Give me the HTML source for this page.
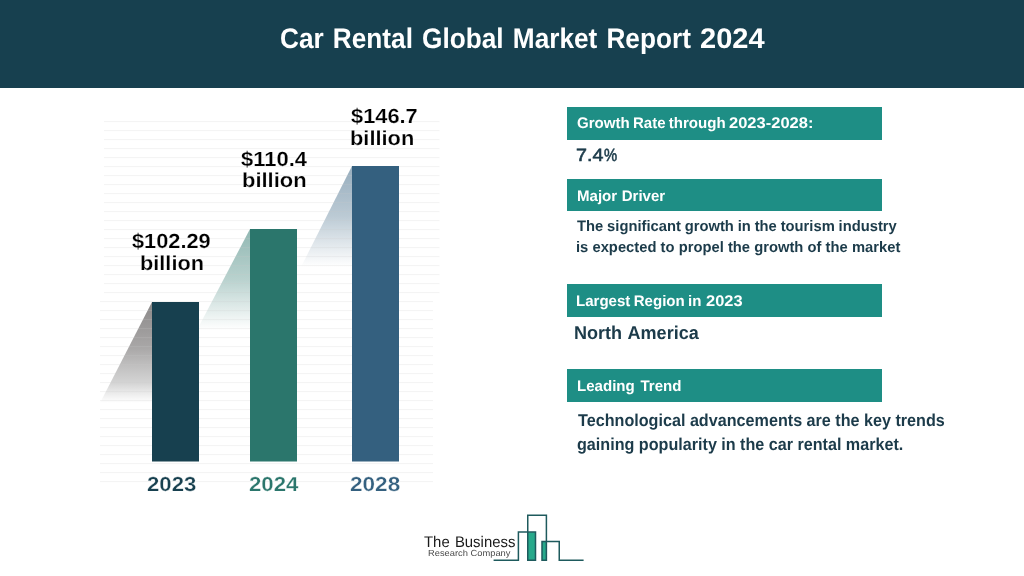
<!DOCTYPE html>
<html lang="en">
<head>
<meta charset="utf-8">
<title>Car Rental Global Market Report 2024</title>
<style>
html,body{margin:0;padding:0;}
body{width:1024px;height:576px;position:relative;overflow:hidden;background:#fff;font-family:"Liberation Sans",sans-serif;text-rendering:geometricPrecision;}
.abs{position:absolute;white-space:nowrap;}
h1,h2,p{margin:0;padding:0;font-size:inherit;font-weight:inherit;}
#hdr{left:0;top:0;width:1024px;height:88px;background:#17404f;}
.box{left:567px;width:315px;background:#1e8e85;}
</style>
</head>
<body>
<header>
<div id="hdr" class="abs"></div>
<h1><span id="title" class="abs" style="left:280.40px;top:21px;font-size:28.42px;line-height:37px;font-weight:bold;color:#fff;word-spacing:2.03px;transform:scaleX(0.9226);transform-origin:0 0">Car Rental Global Market Report</span> <span id="titley" class="abs" style="left:700.48px;top:21px;font-size:28.42px;line-height:37px;font-weight:bold;color:#fff;transform:scaleX(1.0226);transform-origin:0 0">2024</span></h1>
</header>

<main>
<section class="chart">

<svg class="abs" style="left:0;top:88px" width="520" height="400" viewBox="0 88 520 400">
  <defs>
    <linearGradient id="sg1" x1="0" y1="0" x2="0" y2="1"><stop offset="0" stop-color="#8a8888"/><stop offset="0.45" stop-color="#a4a2a2" stop-opacity="0.95"/><stop offset="0.8" stop-color="#b0b0b0" stop-opacity="0.55"/><stop offset="1" stop-color="#b8b8b8" stop-opacity="0"/></linearGradient>
    <linearGradient id="sg2" x1="0" y1="0" x2="0" y2="1"><stop offset="0" stop-color="#2b766c" stop-opacity="0.52"/><stop offset="0.5" stop-color="#2b766c" stop-opacity="0.33"/><stop offset="1" stop-color="#2b766c" stop-opacity="0"/></linearGradient>
    <linearGradient id="sg3" x1="0" y1="0" x2="0" y2="1"><stop offset="0" stop-color="#34607f" stop-opacity="0.52"/><stop offset="0.5" stop-color="#34607f" stop-opacity="0.33"/><stop offset="1" stop-color="#34607f" stop-opacity="0"/></linearGradient>
    <pattern id="grid" x="0" y="121.1" width="10" height="9" patternUnits="userSpaceOnUse"><rect x="0" y="0" width="10" height="1" fill="#c8c8c8" fill-opacity="0.22"/></pattern>
  </defs>
  <polygon points="152,302 152,403 100,403" fill="url(#sg1)"/>
  <polygon points="250,229 250,330 197,330" fill="url(#sg2)"/>
  <polygon points="352,166 352,267 301,267" fill="url(#sg3)"/>
  <rect x="104" y="121" width="335.5" height="176" fill="url(#grid)"/>
  <rect x="100" y="300" width="333" height="183" fill="url(#grid)"/>
  <rect x="152" y="302" width="47" height="159.5" fill="#17404f"/>
  <rect x="250" y="229" width="47" height="232.5" fill="#2b766c"/>
  <rect x="352" y="166" width="47" height="295.5" fill="#34607f"/>
</svg>
<div><span id="v1a" class="abs" style="left:132.37px;top:229px;font-size:20.40px;line-height:27px;font-weight:bold;color:#000;-webkit-text-stroke:0.2px #fff;transform:scaleX(1.0671);transform-origin:0 0">$102.29</span></div>
<div><span id="v1b" class="abs" style="left:139.90px;top:251px;font-size:20.40px;line-height:27px;font-weight:bold;color:#000;-webkit-text-stroke:0.2px #fff;transform:scaleX(1.0655);transform-origin:0 0">billion</span></div>
<div><span id="v2a" class="abs" style="left:240.96px;top:147px;font-size:20.40px;line-height:27px;font-weight:bold;color:#000;-webkit-text-stroke:0.2px #fff;transform:scaleX(1.0785);transform-origin:0 0">$110.4</span></div>
<div><span id="v2b" class="abs" style="left:241.79px;top:168px;font-size:20.40px;line-height:27px;font-weight:bold;color:#000;-webkit-text-stroke:0.2px #fff;transform:scaleX(1.0760);transform-origin:0 0">billion</span></div>
<div><span id="v3a" class="abs" style="left:351.47px;top:104px;font-size:20.40px;line-height:27px;font-weight:bold;color:#000;-webkit-text-stroke:0.2px #fff;transform:scaleX(1.0700);transform-origin:0 0">$146.7</span></div>
<div><span id="v3b" class="abs" style="left:349.90px;top:126px;font-size:20.40px;line-height:27px;font-weight:bold;color:#000;-webkit-text-stroke:0.2px #fff;transform:scaleX(1.0699);transform-origin:0 0">billion</span></div>
<div><span id="y1" class="abs" style="left:147.08px;top:472px;font-size:20.30px;line-height:26px;font-weight:bold;color:#17404f;-webkit-text-stroke:0.25px #fff;transform:scaleX(1.0920);transform-origin:0 0">2023</span></div>
<div><span id="y2" class="abs" style="left:248.98px;top:472px;font-size:20.30px;line-height:26px;font-weight:bold;color:#2b766c;-webkit-text-stroke:0.25px #fff;transform:scaleX(1.0955);transform-origin:0 0">2024</span></div>
<div><span id="y3" class="abs" style="left:349.67px;top:472px;font-size:20.30px;line-height:26px;font-weight:bold;color:#34607f;-webkit-text-stroke:0.25px #fff;transform:scaleX(1.1126);transform-origin:0 0">2028</span></div>
</section>

<section class="facts">
<article>
<div class="abs box" style="top:107.25px;height:32.5px"></div>
<h2><span id="l1" class="abs" style="left:577.36px;top:114px;font-size:15.30px;line-height:20px;font-weight:bold;color:#fff;word-spacing:-0.99px;transform:scaleX(0.9841);transform-origin:0 0">Growth Rate through</span> <span id="l1y" class="abs" style="left:729.46px;top:114px;font-size:15.30px;line-height:20px;font-weight:bold;color:#fff;transform:scaleX(1.0793);transform-origin:0 0">2023-2028:</span></h2>
<p class="v"><span id="g1" class="abs" style="left:575.57px;top:144px;font-size:17.74px;line-height:23px;font-weight:normal;color:#1c3b4a;-webkit-text-stroke:0.6px #1c3b4a;transform:scaleX(1.1116);transform-origin:0 0">7.4</span><span id="g1p" class="abs" style="left:603.99px;top:144px;font-size:17.74px;line-height:23px;font-weight:normal;color:#1c3b4a;-webkit-text-stroke:0.6px #1c3b4a;transform:scaleX(0.8328);transform-origin:0 0">%</span></p>
</article>
<article>
<div class="abs box" style="top:179px;height:32.4px"></div>
<h2><span id="l2" class="abs" style="left:577.05px;top:187px;font-size:15.30px;line-height:20px;font-weight:bold;color:#fff;word-spacing:0.38px;transform:scaleX(0.9841);transform-origin:0 0">Major Driver</span></h2>
<p><span id="p1a" class="abs" style="left:576.74px;top:217px;font-size:15.10px;line-height:20px;font-weight:bold;color:#1c3b4a;word-spacing:-0.26px;transform:scaleX(0.9775);transform-origin:0 0">The significant growth in the tourism industry</span></p>
<p><span id="p1b" class="abs" style="left:576.03px;top:238px;font-size:15.10px;line-height:20px;font-weight:bold;color:#1c3b4a;word-spacing:0.06px;transform:scaleX(0.9775);transform-origin:0 0">is expected to propel the growth of the market</span></p>
</article>
<article>
<div class="abs box" style="top:284.25px;height:32.75px"></div>
<h2><span id="l3" class="abs" style="left:576.04px;top:292px;font-size:15.30px;line-height:20px;font-weight:bold;color:#fff;word-spacing:-0.87px;transform:scaleX(0.9841);transform-origin:0 0">Largest Region in</span> <span id="l3y" class="abs" style="left:705.71px;top:292px;font-size:15.30px;line-height:20px;font-weight:bold;color:#fff;transform:scaleX(1.0758);transform-origin:0 0">2023</span></h2>
<p><span id="g3" class="abs" style="left:573.79px;top:321px;font-size:18.58px;line-height:24px;font-weight:bold;color:#1c3b4a;word-spacing:1.06px;transform:scaleX(0.9720);transform-origin:0 0">North America</span></p>
</article>
<article>
<div class="abs box" style="top:368.75px;height:32.9px"></div>
<h2><span id="l4" class="abs" style="left:577.01px;top:377px;font-size:15.30px;line-height:20px;font-weight:bold;color:#fff;word-spacing:1.63px;transform:scaleX(0.9841);transform-origin:0 0">Leading Trend</span></h2>
<p><span id="p2a" class="abs" style="left:578.04px;top:410px;font-size:17.10px;line-height:22px;font-weight:bold;color:#1c3b4a;word-spacing:-0.04px;transform:scaleX(0.9452);transform-origin:0 0">Technological advancements are the key trends</span></p>
<p><span id="p2b" class="abs" style="left:576.73px;top:434px;font-size:17.10px;line-height:22px;font-weight:bold;color:#1c3b4a;word-spacing:-0.09px;transform:scaleX(0.9452);transform-origin:0 0">gaining popularity in the car rental market.</span></p>
</article>
</section>
</main>

<footer>
<svg class="abs" style="left:480px;top:506px" width="120" height="66" viewBox="480 506 120 66">
  <rect x="527.75" y="532.1" width="7.75" height="28.15" fill="#27a98b"/>
  <rect x="542" y="541.5" width="4.4" height="18.75" fill="#27a98b"/>
  <g fill="none" stroke="#1e5a5d" stroke-width="1.5" stroke-linejoin="miter">
    <path d="M493.6,560.25 H518.4 V532.1 H535.5 V560.25 H527.75 V515.25 H546.4 V560.25 H542 V541.5 H559.25 V560.25 H583.6"/>
  </g>
</svg>
<div><span id="lg1" class="abs" style="left:423.84px;top:533px;font-size:15.43px;line-height:20px;font-weight:normal;color:#1a1a1a;word-spacing:1.13px;transform:scaleX(0.9659);transform-origin:0 0">The Business</span></div>
<div><span id="lg2" class="abs" style="left:428.20px;top:548px;font-size:8.80px;line-height:11px;font-weight:normal;color:#4a4a4a;transform:scaleX(1.0606);transform-origin:0 0">Research Company</span></div>
</footer>

</body>
</html>
